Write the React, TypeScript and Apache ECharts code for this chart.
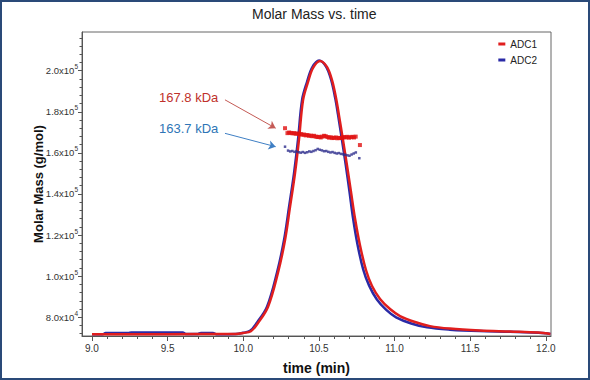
import React, { useEffect, useRef } from 'react';
import * as echarts from 'echarts';

// ---- Data (time in min, molar mass in g/mol) ----
const adc1Trace: [number, number][] = [
  [9.0, 71800], [9.5, 71800], [9.95, 71900], [10.0, 72400], [10.05, 73200],
  [10.097, 77200], [10.163, 85000], [10.229, 101600], [10.276, 117600],
  [10.309, 133700], [10.342, 150200], [10.368, 166300], [10.395, 185700],
  [10.428, 194500], [10.461, 201300], [10.507, 204700], [10.553, 201800],
  [10.586, 195500], [10.613, 186700], [10.632, 178500], [10.659, 166300],
  [10.685, 154100], [10.712, 141000], [10.738, 128300], [10.771, 115200],
  [10.811, 103000], [10.851, 95200], [10.904, 88900], [10.97, 84000],
  [11.036, 80600], [11.135, 77700], [11.234, 75700], [11.366, 74500],
  [11.564, 73600], [11.763, 73100], [11.95, 72600], [12.0, 72200], [12.03, 71900],
];

const adc2Trace: [number, number][] = [
  [9.0, 71700], [9.07, 71700], [9.09, 72300], [9.24, 72300], [9.26, 72600],
  [9.6, 72600], [9.62, 71900], [9.7, 71900], [9.72, 72400], [9.8, 72400],
  [9.82, 71800], [9.95, 71900], [10.0, 72500], [10.045, 73400], [10.09, 77400],
  [10.157, 85200], [10.223, 101800], [10.27, 117800], [10.303, 133900],
  [10.336, 150400], [10.362, 166500], [10.389, 185900], [10.422, 194700],
  [10.455, 201500], [10.501, 204900], [10.547, 202000], [10.58, 195700],
  [10.607, 186900], [10.626, 178700], [10.652, 166500], [10.677, 154300],
  [10.702, 141200], [10.725, 128500], [10.755, 115400], [10.793, 103200],
  [10.832, 95400], [10.882, 88800], [10.945, 83600], [11.01, 80000],
  [11.11, 77000], [11.215, 75100], [11.366, 74000], [11.564, 73300],
  [11.763, 73000], [11.95, 72500], [12.0, 72200], [12.03, 71900],
];

const adc1MolarMass: [number, number][] = [
  [10.276, 172000], [10.292, 169600], [10.303, 169900], [10.314, 169700],
  [10.325, 169500], [10.336, 169600], [10.347, 169300], [10.358, 169400],
  [10.369, 169100], [10.38, 169200], [10.391, 168800], [10.402, 168900],
  [10.413, 168500], [10.424, 168700], [10.435, 168300], [10.446, 168400],
  [10.457, 168100], [10.468, 168300], [10.479, 167900], [10.49, 167700],
  [10.501, 167800], [10.512, 167500], [10.523, 167900], [10.534, 168300],
  [10.545, 168100], [10.556, 167700], [10.567, 167400], [10.578, 167600],
  [10.589, 167200], [10.6, 167300], [10.611, 167500], [10.622, 167100],
  [10.633, 167300], [10.644, 167200], [10.655, 167400], [10.666, 167700],
  [10.677, 167500], [10.688, 167800], [10.699, 167400], [10.71, 167600],
  [10.721, 167800], [10.732, 167500], [10.743, 167900], [10.771, 163800],
];

const adc2MolarMass: [number, number][] = [
  [10.276, 163000], [10.296, 161100], [10.31, 160700], [10.324, 160900],
  [10.338, 160500], [10.352, 160700], [10.366, 160300], [10.38, 160100],
  [10.394, 160400], [10.408, 160000], [10.422, 160300], [10.436, 160700],
  [10.45, 160500], [10.464, 160900], [10.478, 161300], [10.492, 161900],
  [10.506, 161500], [10.52, 161200], [10.534, 160800], [10.548, 160900],
  [10.562, 160500], [10.576, 160200], [10.59, 160400], [10.604, 160000],
  [10.618, 159700], [10.632, 159900], [10.646, 159500], [10.66, 159300],
  [10.674, 159100], [10.688, 158800], [10.702, 158600], [10.716, 159200],
  [10.73, 159700], [10.744, 160200], [10.767, 157400],
];

const seriesNames = ['ADC1', 'ADC2'];
const xMajorTicks = [9.0, 9.5, 10.0, 10.5, 11.0, 11.5, 12.0];
const xMinorTicks = [
  9.1, 9.2, 9.3, 9.4, 9.6, 9.7, 9.8, 9.9, 10.1, 10.2, 10.3, 10.4, 10.6, 10.7,
  10.8, 10.9, 11.1, 11.2, 11.3, 11.4, 11.6, 11.7, 11.8, 11.9,
];
const yMajorTicks = [80000, 100000, 120000, 140000, 160000, 180000, 200000];
const yMinorTicks = [
  72000, 76000, 84000, 88000, 92000, 96000, 104000, 108000, 112000, 116000,
  124000, 128000, 132000, 136000, 144000, 148000, 152000, 156000, 164000,
  168000, 172000, 176000, 184000, 188000, 192000, 196000, 204000, 208000,
  212000, 216000,
];
const annotations = [
  { text: '167.8 kDa', from: [9.879, 185800], to: [10.214, 172000] },
  { text: '163.7 kDa', from: [9.879, 169500], to: [10.214, 163000] },
];

const X_MIN = 8.934;
const X_MAX = 12.034;
const Y_MIN = 70900;
const Y_MAX = 218800;

const RED = '#e01e1e';
const BLUE = '#2a2aa6';
const FONT = 'Liberation Sans, Arial, sans-serif';

const GRID = { left: 82, top: 32, width: 469, height: 304 };

function sciLabel(v: number) {
  const e = Math.floor(Math.log10(v) + 1e-9);
  const m = (v / Math.pow(10, e)).toFixed(1);
  return `{m|${m}x10}{e|${e}}`;
}

export default function App() {
  const ref = useRef<HTMLDivElement>(null);
  useEffect(() => {
    if (!ref.current) return;
    const chart = echarts.init(ref.current, undefined, { renderer: 'svg' });
    const minorAxisCommon = {
      axisLine: { show: false },
      axisLabel: { show: false },
      splitLine: { show: false },
    };
    chart.setOption({
      animation: false,
      backgroundColor: '#ffffff',
      title: {
        text: 'Molar Mass vs. time',
        left: 252,
        top: 7,
        padding: 0,
        textStyle: { fontFamily: FONT, fontSize: 14, fontWeight: 'normal', color: '#222' },
      },
      legend: {
        data: seriesNames.map((name) => ({ name, icon: 'rect' })),
        orient: 'vertical',
        right: 48,
        top: 34,
        itemWidth: 7,
        itemHeight: 3,
        itemGap: 6,
        itemStyle: { borderWidth: 0, borderColor: 'transparent' },
        lineStyle: { width: 0, color: 'transparent' },
        textStyle: { fontFamily: FONT, fontSize: 10, color: '#222' },
      },
      grid: [
        { ...GRID, show: true, borderColor: '#666', borderWidth: 1, backgroundColor: 'transparent' },
        { ...GRID, show: false },
      ],
      xAxis: [
        {
          type: 'value',
          gridIndex: 0,
          min: X_MIN,
          max: X_MAX,
          name: 'time (min)',
          nameLocation: 'middle',
          nameGap: 25,
          nameMoveOverlap: false,
          nameTextStyle: { fontFamily: FONT, fontSize: 14, fontWeight: 'bold', color: '#111' },
          axisLine: { show: true, onZero: false, lineStyle: { color: '#555', width: 1 } },
          axisTick: { show: true, customValues: xMajorTicks, length: 5, inside: false, lineStyle: { color: '#555' } },
          axisLabel: {
            customValues: xMajorTicks,
            margin: 7,
            fontFamily: FONT,
            fontSize: 10,
            color: '#333',
            formatter: (v: number) => v.toFixed(1),
          },
          splitLine: { show: false },
        },
        {
          type: 'value',
          gridIndex: 1,
          min: X_MIN,
          max: X_MAX,
          ...minorAxisCommon,
          axisTick: { show: true, customValues: xMinorTicks, length: 3, lineStyle: { color: '#555' } },
        },
      ],
      yAxis: [
        {
          type: 'value',
          gridIndex: 0,
          min: Y_MIN,
          max: Y_MAX,
          name: 'Molar Mass (g/mol)',
          nameLocation: 'middle',
          nameGap: 37,
          nameMoveOverlap: false,
          nameRotate: 90,
          nameTextStyle: { fontFamily: FONT, fontSize: 13, fontWeight: 'bold', color: '#111' },
          axisLine: { show: true, onZero: false, lineStyle: { color: '#555', width: 1 } },
          axisTick: { show: true, customValues: yMajorTicks, length: 4, lineStyle: { color: '#555' } },
          axisLabel: {
            customValues: yMajorTicks,
            margin: 4,
            formatter: sciLabel,
            rich: {
              m: { fontFamily: FONT, fontSize: 9.5, color: '#333', lineHeight: 15 },
              e: { fontFamily: FONT, fontSize: 6.5, color: '#333', lineHeight: 6, verticalAlign: 'top' },
            },
          },
          splitLine: { show: false },
        },
        {
          type: 'value',
          gridIndex: 1,
          min: Y_MIN,
          max: Y_MAX,
          ...minorAxisCommon,
          axisTick: { show: true, customValues: yMinorTicks, length: 2.5, lineStyle: { color: '#555' } },
        },
      ],
      series: [
        {
          name: 'ADC2',
          type: 'line',
          data: adc2Trace,
          smooth: 0.35,
          showSymbol: false,
          symbol: 'none',
          color: BLUE,
          lineStyle: { color: BLUE, width: 2.5 },
          z: 2,
        },
        {
          name: 'ADC1',
          type: 'line',
          data: adc1Trace,
          smooth: 0.35,
          showSymbol: false,
          symbol: 'none',
          color: RED,
          lineStyle: { color: RED, width: 2.5 },
          z: 3,
        },
        {
          name: 'ADC2 molar mass',
          type: 'scatter',
          data: adc2MolarMass,
          symbol: 'rect',
          symbolSize: 2.5,
          itemStyle: { color: '#2c2c8c' },
          z: 4,
          markLine: {
            silent: true,
            symbol: ['none', 'arrow'],
            symbolSize: 7,
            label: { show: false },
            lineStyle: { color: '#3f7fc4', width: 1, type: 'solid' },
            data: [[{ coord: annotations[1].from }, { coord: annotations[1].to }]],
          },
        },
        {
          name: 'ADC1 molar mass',
          type: 'scatter',
          data: adc1MolarMass,
          symbol: 'rect',
          symbolSize: 4,
          itemStyle: { color: '#e01010' },
          z: 5,
          markLine: {
            silent: true,
            symbol: ['none', 'arrow'],
            symbolSize: 7,
            label: { show: false },
            lineStyle: { color: '#c45a55', width: 1, type: 'solid' },
            data: [[{ coord: annotations[0].from }, { coord: annotations[0].to }]],
          },
        },
      ],
      graphic: [
        {
          type: 'text',
          left: 159,
          top: 91,
          style: { text: annotations[0].text, fill: '#c0312b', font: `13px ${FONT}` },
          silent: true,
        },
        {
          type: 'text',
          left: 159,
          top: 122,
          style: { text: annotations[1].text, fill: '#2e75b6', font: `13px ${FONT}` },
          silent: true,
        },
        {
          type: 'rect',
          shape: { x: 1, y: 1, width: 588, height: 378 },
          style: { fill: 'none', stroke: '#2a4a78', lineWidth: 2 },
          silent: true,
          z: 100,
        },
      ],
    });
    return () => chart.dispose();
  }, []);
  return (
    <div
      ref={ref}
      style={{ position: 'fixed', left: 0, top: 0, width: 590, height: 380, background: '#fff' }}
    />
  );
}
